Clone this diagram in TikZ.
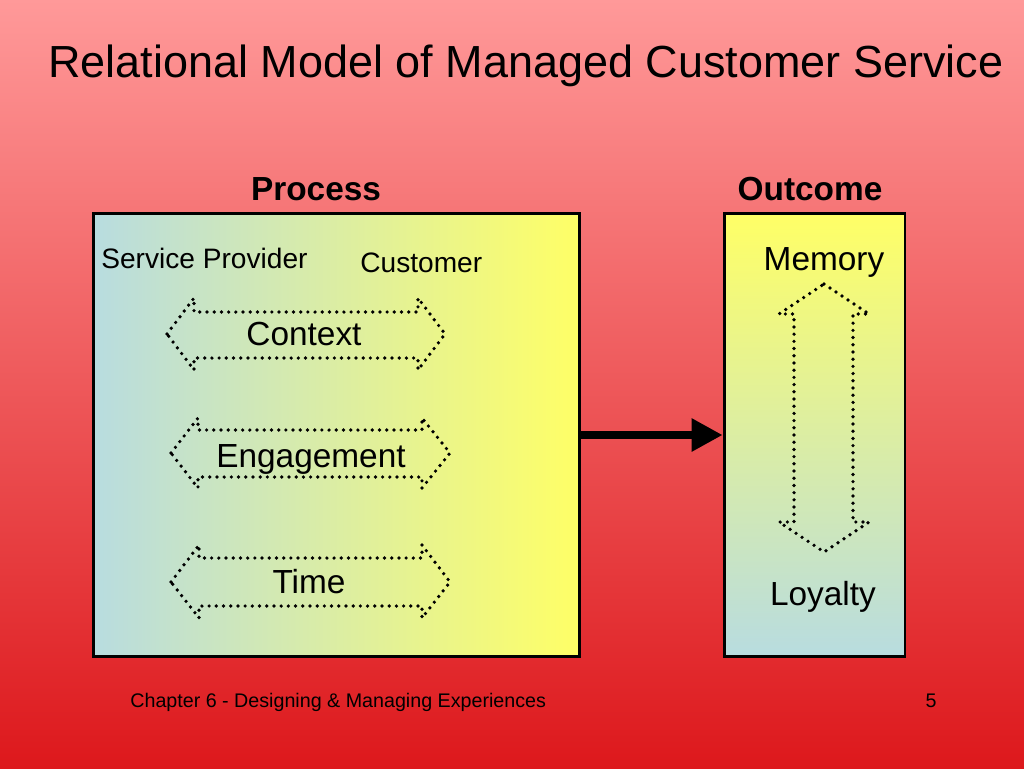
\documentclass[tikz,border=0pt]{standalone}
\usepackage{fontspec}
\setmainfont{Liberation Sans}
\usepackage{xcolor}
\usetikzlibrary{arrows.meta}

\definecolor{slidetop}{RGB}{255,153,153}
\definecolor{slidebottom}{RGB}{221,24,28}
\definecolor{paleblue}{RGB}{184,220,224}
\definecolor{paleyellow}{RGB}{255,255,102}

\begin{document}
\begin{tikzpicture}[x=0.02cm, y=-0.02cm,
    box/.style={draw, line width=1.7pt, minimum height=8.88cm, inner sep=0pt},
    dotarrow/.style={line width=2.1pt, line cap=round, dash pattern=on 0pt off 4.1pt},
    lbl/.style={inner sep=0pt, anchor=base},
    bigtext/.style={font=\fontsize{19}{23}\selectfont},
    smalltext/.style={font=\fontsize{16}{19}\selectfont}]
    % Slide background
    \shade[top color=slidetop, bottom color=slidebottom] (0,0) rectangle (1024,768);
    \useasboundingbox (0,0) rectangle (1024,768);

    % Title
    \node[lbl, font=\fontsize{25.6}{30}\selectfont] (title) at (526,77) {Relational Model of Managed Customer Service};

    % Boxes
    \node[box, left color=paleblue, right color=paleyellow, minimum width=9.74cm] (process) at (336.5,435) {};
    \node[box, top color=paleyellow, bottom color=paleblue, minimum width=3.62cm] (outcome) at (814.5,435) {};
    \node[lbl, font=\bfseries\fontsize{19}{23}\selectfont] (processhead) at (316,200) {Process};
    \node[lbl, font=\bfseries\fontsize{19}{23}\selectfont] (outcomehead) at (810,200) {Outcome};

    % Process -> Outcome
    \draw[line width=4pt, -{Triangle[length=17.6pt,width=18pt]}] (process.east) -- (outcome.west);

    % Parties
    \node[lbl, smalltext, anchor=base west] (provider) at (101,268) {Service Provider};
    \node[lbl, smalltext, anchor=base west] (customer) at (360,272) {Customer};

    % Dotted double arrows
    \draw[dotarrow] (167,334) -- (194,298) -- (194,312) -- (418,312) -- (418,298) -- (445,334)
        -- (418,370) -- (418,358) -- (194,358) -- (194,370) -- cycle;
    \draw[dotarrow] (171,453) -- (198,418) -- (198,430) -- (422,430) -- (422,418) -- (450,453)
        -- (422,488) -- (422,477) -- (198,477) -- (198,488) -- cycle;
    \draw[dotarrow] (171,582) -- (199,545) -- (199,558) -- (422,558) -- (422,545) -- (450,582)
        -- (422,618) -- (422,606) -- (199,606) -- (199,618) -- cycle;
    \draw[dotarrow] (824,284) -- (869,314) -- (853,314) -- (853,522) -- (869,522) -- (824,552)
        -- (779,522) -- (794,522) -- (794,314) -- (779,314) -- cycle;

    \node[lbl, bigtext] (context) at (304,345) {Context};
    \node[lbl, bigtext] (engagement) at (311,467) {Engagement};
    \node[lbl, bigtext] (time) at (309,593) {Time};
    \node[lbl, bigtext] (memory) at (824,270) {Memory};
    \node[lbl, bigtext] (loyalty) at (823,605) {Loyalty};

    % Footer
    \node[lbl, anchor=base west, font=\fontsize{11.2}{13}\selectfont] (footer) at (130,707) {Chapter 6 - Designing \& Managing Experiences};
    \node[lbl, font=\fontsize{11.2}{13}\selectfont] (pagenum) at (931,707) {5};
\end{tikzpicture}
\end{document}
